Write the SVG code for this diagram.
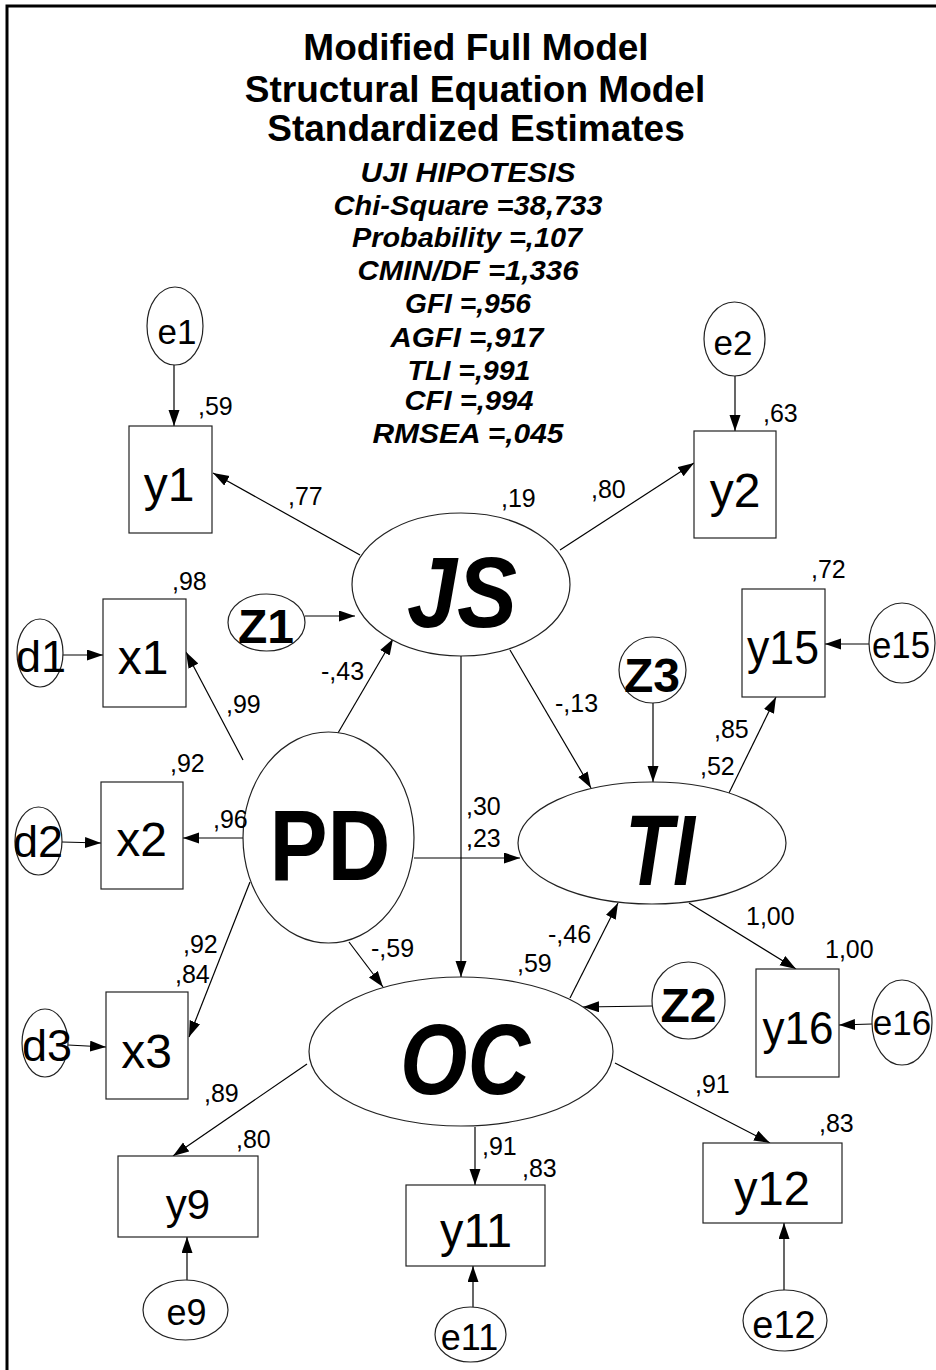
<svg xmlns="http://www.w3.org/2000/svg" width="936" height="1370" viewBox="0 0 936 1370">
<defs>
<marker id="ah" markerUnits="userSpaceOnUse" markerWidth="17" markerHeight="12" refX="16" refY="5.5" orient="auto">
<path d="M0,0 L16,5.5 L0,11 z" fill="#000"/>
</marker>
</defs>
<style>
.bg{fill:#fff}
.frame{stroke:#000;stroke-width:3;fill:none}
.n{fill:#fff;stroke:#222;stroke-width:1.2}
.c line{stroke:#000;stroke-width:1.2;marker-end:url(#ah)}
.title{font-family:"Liberation Sans",Arial,sans-serif;font-weight:bold;font-size:37px;text-anchor:middle}
.stat{font-family:"Liberation Sans",Arial,sans-serif;font-weight:bold;font-style:italic;font-size:27px;text-anchor:middle}
.lab{font-family:"Liberation Sans",Arial,sans-serif;font-size:48px;text-anchor:middle}
.bl{font-family:"Liberation Sans",Arial,sans-serif;font-size:48px;font-weight:bold;text-anchor:middle}
.big{font-family:"Liberation Sans",Arial,sans-serif;font-size:100px;font-weight:bold;text-anchor:middle}
.bigi{font-family:"Liberation Sans",Arial,sans-serif;font-size:100px;font-weight:bold;font-style:italic;text-anchor:middle}
.co{font-family:"Liberation Sans",Arial,sans-serif;font-size:25px}
</style>
<rect class="bg" x="0" y="0" width="936" height="1370"/>
<path class="frame" d="M7,1370 V6 H936"/>

<g id="header">
<text class="title" x="476" y="60">Modified Full Model</text>
<text class="title" x="475" y="102">Structural Equation Model</text>
<text class="title" x="476" y="141">Standardized Estimates</text>
<text class="stat" x="468" y="182" textLength="215" lengthAdjust="spacingAndGlyphs">UJI HIPOTESIS</text>
<text class="stat" x="468" y="215" textLength="269" lengthAdjust="spacingAndGlyphs">Chi-Square =38,733</text>
<text class="stat" x="467" y="247" textLength="230" lengthAdjust="spacingAndGlyphs">Probability =,107</text>
<text class="stat" x="468" y="280" textLength="221" lengthAdjust="spacingAndGlyphs">CMIN/DF =1,336</text>
<text class="stat" x="468" y="313" textLength="126" lengthAdjust="spacingAndGlyphs">GFI =,956</text>
<text class="stat" x="467" y="347" textLength="153" lengthAdjust="spacingAndGlyphs">AGFI =,917</text>
<text class="stat" x="469" y="380" textLength="123" lengthAdjust="spacingAndGlyphs">TLI =,991</text>
<text class="stat" x="469" y="410" textLength="129" lengthAdjust="spacingAndGlyphs">CFI =,994</text>
<text class="stat" x="468" y="443" textLength="191" lengthAdjust="spacingAndGlyphs">RMSEA =,045</text>
</g>

<g id="connectors" class="c">
<line x1="174" y1="365" x2="174" y2="426"/>
<line x1="735" y1="376" x2="735" y2="431"/>
<line x1="360" y1="555" x2="213" y2="473"/>
<line x1="560" y1="550" x2="694" y2="463"/>
<line x1="305" y1="616" x2="355" y2="616"/>
<line x1="63" y1="655" x2="103" y2="655"/>
<line x1="243" y1="760" x2="186" y2="652"/>
<line x1="338" y1="733" x2="393" y2="639"/>
<line x1="461" y1="656" x2="461" y2="977"/>
<line x1="510" y1="650" x2="591" y2="788"/>
<line x1="653" y1="703" x2="653" y2="782"/>
<line x1="729" y1="793" x2="776" y2="697"/>
<line x1="869" y1="644" x2="825" y2="644"/>
<line x1="62" y1="842" x2="101" y2="843"/>
<line x1="243" y1="838" x2="183" y2="838"/>
<line x1="250" y1="882" x2="189" y2="1037"/>
<line x1="68" y1="1045" x2="106" y2="1047"/>
<line x1="414" y1="858" x2="520" y2="858"/>
<line x1="349" y1="942" x2="383" y2="987"/>
<line x1="570" y1="998" x2="618" y2="903"/>
<line x1="652" y1="1006" x2="583" y2="1007"/>
<line x1="689" y1="903" x2="796" y2="969"/>
<line x1="872" y1="1024" x2="839" y2="1025"/>
<line x1="307" y1="1064" x2="173" y2="1156"/>
<line x1="475" y1="1127" x2="475" y2="1185"/>
<line x1="615" y1="1063" x2="770" y2="1143"/>
<line x1="187" y1="1280" x2="187" y2="1237"/>
<line x1="473" y1="1307" x2="473" y2="1266"/>
<line x1="784" y1="1290" x2="784" y2="1223"/>
</g>

<g id="e1"><ellipse class="n" cx="175" cy="326" rx="28" ry="39"/><text class="lab" style="font-size:35px" x="177" y="344">e1</text></g>
<g id="e2"><ellipse class="n" cx="734.5" cy="339" rx="30.5" ry="37"/><text class="lab" style="font-size:35px" x="733" y="355">e2</text></g>
<g id="y1"><rect class="n" x="129" y="426" width="83" height="107"/><text class="lab" x="169" y="501">y1</text></g>
<g id="y2"><rect class="n" x="694" y="431" width="82" height="107"/><text class="lab" x="735" y="507">y2</text></g>
<g id="JS"><ellipse class="n" cx="461" cy="584.5" rx="109" ry="71.5"/><text class="bigi" x="462" y="627" textLength="110" lengthAdjust="spacingAndGlyphs">JS</text></g>
<g id="Z1"><ellipse class="n" cx="266.5" cy="622.5" rx="38.5" ry="28.5"/><text class="bl" x="266" y="643">Z1</text></g>
<g id="d1"><ellipse class="n" cx="40" cy="653" rx="23" ry="34"/><text class="lab" style="font-size:45px" x="41" y="672">d1</text></g>
<g id="x1"><rect class="n" x="103" y="599" width="83" height="108"/><text class="lab" x="143" y="674">x1</text></g>
<g id="Z3"><ellipse class="n" cx="652.5" cy="670" rx="33.5" ry="33"/><text class="bl" x="652" y="692">Z3</text></g>
<g id="y15"><rect class="n" x="742" y="589" width="83" height="108"/><text class="lab" x="783" y="664" textLength="72" lengthAdjust="spacingAndGlyphs">y15</text></g>
<g id="e15"><ellipse class="n" cx="902" cy="643" rx="33" ry="40"/><text class="lab" style="font-size:37px" x="901" y="658" textLength="58" lengthAdjust="spacingAndGlyphs">e15</text></g>
<g id="d2"><ellipse class="n" cx="38.5" cy="841" rx="23.5" ry="34"/><text class="lab" style="font-size:45px" x="38" y="857">d2</text></g>
<g id="x2"><rect class="n" x="101" y="782" width="82" height="107"/><text class="lab" x="141.5" y="856">x2</text></g>
<g id="PD"><ellipse class="n" cx="328.5" cy="837.5" rx="85.5" ry="105.5"/><text class="big" x="330" y="880" textLength="121" lengthAdjust="spacingAndGlyphs">PD</text></g>
<g id="TI"><ellipse class="n" cx="652" cy="843" rx="134" ry="61"/><text class="bigi" x="660" y="885" textLength="70" lengthAdjust="spacingAndGlyphs">TI</text></g>
<g id="d3"><ellipse class="n" cx="45" cy="1043" rx="23" ry="34"/><text class="lab" style="font-size:45px" x="47" y="1061">d3</text></g>
<g id="x3"><rect class="n" x="106" y="992" width="82" height="107"/><text class="lab" x="146.5" y="1068">x3</text></g>
<g id="OC"><ellipse class="n" cx="461" cy="1051.5" rx="152" ry="74.5"/><text class="bigi" x="465" y="1094" textLength="130" lengthAdjust="spacingAndGlyphs">OC</text></g>
<g id="Z2"><ellipse class="n" cx="688.5" cy="1000.5" rx="36.5" ry="38.5"/><text class="bl" x="688.5" y="1022">Z2</text></g>
<g id="y16"><rect class="n" x="756" y="969" width="83" height="108"/><text class="lab" style="font-size:46px" x="798" y="1044" textLength="71" lengthAdjust="spacingAndGlyphs">y16</text></g>
<g id="e16"><ellipse class="n" cx="902" cy="1022.5" rx="30" ry="42.5"/><text class="lab" style="font-size:35px" x="902" y="1035">e16</text></g>
<g id="y9"><rect class="n" x="118" y="1156" width="140" height="81"/><text class="lab" style="font-size:42px" x="188" y="1219">y9</text></g>
<g id="y11"><rect class="n" x="406" y="1185" width="139" height="81"/><text class="lab" x="476" y="1247" textLength="72" lengthAdjust="spacingAndGlyphs">y11</text></g>
<g id="y12"><rect class="n" x="703" y="1143" width="139" height="80"/><text class="lab" x="772" y="1205" textLength="76" lengthAdjust="spacingAndGlyphs">y12</text></g>
<g id="e9"><ellipse class="n" cx="185.5" cy="1310" rx="42.5" ry="30"/><text class="lab" style="font-size:36px" x="186.5" y="1325">e9</text></g>
<g id="e11"><ellipse class="n" cx="470.5" cy="1334.5" rx="35.5" ry="27.5"/><text class="lab" style="font-size:36px" x="469.5" y="1350">e11</text></g>
<g id="e12"><ellipse class="n" cx="785" cy="1320.5" rx="42" ry="30.5"/><text class="lab" style="font-size:38px" x="784" y="1338">e12</text></g>

<g id="coefficients" class="co">
<text x="198" y="415">,59</text>
<text x="763" y="422">,63</text>
<text x="288" y="505">,77</text>
<text x="501" y="507">,19</text>
<text x="591" y="498">,80</text>
<text x="172" y="590">,98</text>
<text x="321" y="680">-,43</text>
<text x="226" y="713">,99</text>
<text x="555" y="712">-,13</text>
<text x="811" y="578">,72</text>
<text x="714" y="738">,85</text>
<text x="700" y="775">,52</text>
<text x="170" y="772">,92</text>
<text x="213" y="828">,96</text>
<text x="466" y="815">,30</text>
<text x="466" y="847">,23</text>
<text x="183" y="953">,92</text>
<text x="175" y="983">,84</text>
<text x="371" y="957">-,59</text>
<text x="746" y="925">1,00</text>
<text x="825" y="958">1,00</text>
<text x="548" y="943">-,46</text>
<text x="517" y="972">,59</text>
<text x="204" y="1102">,89</text>
<text x="236" y="1148">,80</text>
<text x="482" y="1155">,91</text>
<text x="522" y="1177">,83</text>
<text x="695" y="1093">,91</text>
<text x="819" y="1132">,83</text>
</g>
</svg>
